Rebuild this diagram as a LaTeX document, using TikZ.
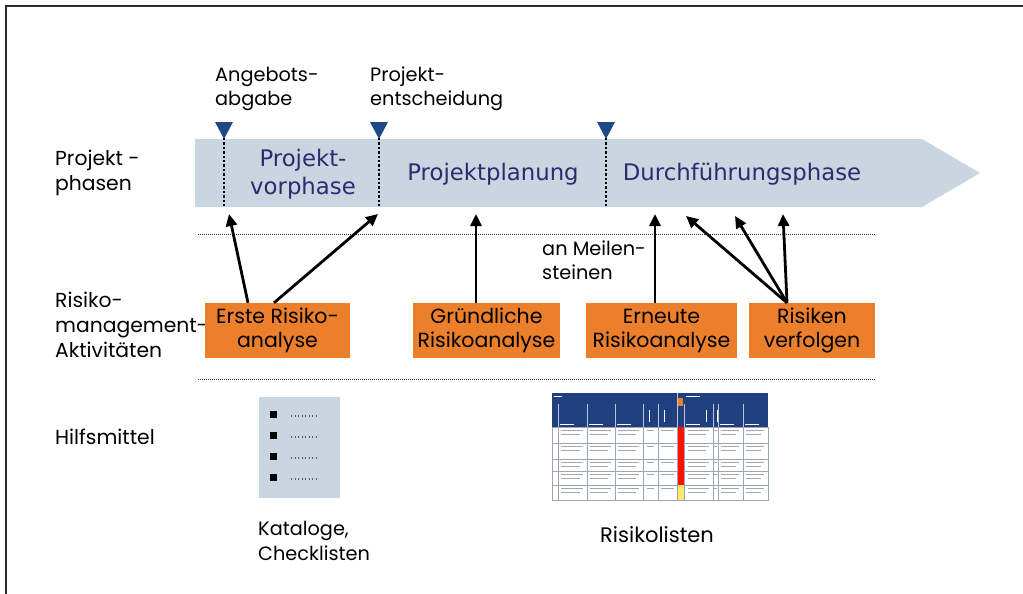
\documentclass[tikz,border=0pt]{standalone}
\usepackage{fontspec}
\setmainfont{Poppins}
\newfontfamily\phasefont{DejaVu Sans}
\usetikzlibrary{arrows.meta,calc}
\definecolor{band}{HTML}{C9D6E1}
\definecolor{orng}{HTML}{EB7F2B}
\definecolor{navy}{HTML}{2D2A6E}
\definecolor{tri}{HTML}{1F4A8A}
\definecolor{hdr}{HTML}{1F3F7E}
\definecolor{frame}{HTML}{2B2B2B}
\definecolor{grid}{HTML}{9AA6B8}
\begin{document}
\begin{tikzpicture}[x=1pt,y=-1pt,
  lbl/.style={anchor=west,align=left,font=\fontsize{19.3}{24.5}\selectfont,inner sep=0},
  side/.style={lbl,font=\fontsize{20.3}{25}\selectfont},
  phase/.style={align=center,text=navy,font=\phasefont\fontsize{22.8}{28}\selectfont,inner sep=0},
  actbox/.style={fill=orng,minimum height=55pt,align=center,font=\fontsize{20.5}{24}\selectfont,inner sep=0},
  arr/.style={-{Triangle[length=12pt,width=11pt]},line width=2.8pt},
  msline/.style={line width=2.6pt,dash pattern=on 2.4pt off 2pt},
  sep/.style={line width=1pt,dash pattern=on 1pt off 1pt,black!80},
  txtline/.style={line width=0.7pt,black!35}]
\useasboundingbox (0,0) rectangle (1023,594);
% frame
\draw[frame,line width=2.5pt] (6,594) -- (6,6) -- (1023,6);
% phase band
\fill[band] (195,139) -- (922,139) -- (980,173) -- (922,207) -- (195,207) -- cycle;
% milestones
\foreach \n/\x in {m1/224,m2/379,m3/606}{
  \coordinate (\n) at (\x,138);
  \fill[tri] (\x-9,122) -- (\x+9,122) -- (\x,139) -- cycle;
  \draw[msline] (\n) -- (\x,208);
}
% left labels
\node[side] (lp) at (55,173) {Projekt -\\phasen};
\node[side] (lr) at (55,325) {Risiko-\\management-\\Aktivitäten};
\node[side] (lh) at (55,437) {Hilfsmittel};
% milestone labels
\node[lbl] (la) at (215,89) {Angebots-\\abgabe};
\node[lbl] (le) at (370,89) {Projekt-\\entscheidung};
% phase labels
\node[phase] (pv) at (303,174) {Projekt-\\vorphase};
\node[phase] (pp) at (493,174) {Projektplanung};
\node[phase] (pd) at (742,174) {Durchführungsphase};
% separators
\draw[sep] (198,234) -- (875,234);
\draw[sep] (198,379) -- (875,379);
% activity boxes
\node[actbox,minimum width=145pt] (b1) at (277.5,330.5) {Erste Risiko-\\analyse};
\node[actbox,minimum width=147pt] (b2) at (486.5,330.5) {Gründliche\\Risikoanalyse};
\node[actbox,minimum width=151pt] (b3) at (661.5,330.5) {Erneute\\Risikoanalyse};
\node[actbox,minimum width=126pt] (b4) at (812,330.5) {Risiken\\verfolgen};
\node[lbl] (lm) at (542,260) {an Meilen-\\steinen};
% arrow targets
\coordinate (t1) at (229,214);
\coordinate (t2) at (378,214);
\coordinate (t3) at (476,214);
\coordinate (t4) at (655,214);
\coordinate (t5) at (686,216);
\coordinate (t6) at (735,216);
\coordinate (t7) at (783,214);
\draw[arr] ([xshift=-29.5pt]b1.north) -- (t1);
\draw[arr] ([xshift=-3.5pt]b1.north) -- (t2);
\draw[arr] ([xshift=-10.5pt]b2.north) -- (t3);
\draw[arr] ([xshift=-6.5pt]b3.north) -- (t4);
\draw[arr] ([xshift=-25pt]b4.north) -- (t5);
\draw[arr] ([xshift=-25pt]b4.north) -- (t6);
\draw[arr] ([xshift=-25pt]b4.north) -- (t7);
% checklist
\fill[band] (259,397) rectangle (340,498);
\foreach \y in {414,435,456,477}{
  \fill[black] (269.5,\y-3.5) rectangle (276.5,\y+3.5);
  \draw[line width=1.2pt,black!65,dash pattern=on 1.2pt off 2.3pt] (291,\y+2) -- (318,\y+2);
}
\node[lbl] (lk) at (258,541) {Kataloge,\\Checklisten};
% risk list table
\fill[white] (552,393) rectangle (768,500);
\fill[hdr] (552,393) rectangle (768,427);
\foreach \x in {558,587,615,643,658,677,684,713,718,743}{
  \draw[white!70!hdr,line width=0.5pt] (\x,404) -- (\x,427);
  \draw[grid,line width=0.5pt] (\x,427) -- (\x,500);
}
\draw[white!70!hdr,line width=0.5pt] (677,393) -- (677,404);
\foreach \y in {443,459,471,485}{
  \draw[grid,line width=0.5pt] (552,\y) -- (768,\y);
}
\draw[grid,line width=0.5pt] (552,427) rectangle (768,500);
\fill[red!85!orange] (677.5,427) rectangle (683.5,485);
\fill[yellow!80!orange!60] (677.5,485) rectangle (683.5,500);
\fill[orng] (678,398) rectangle (683,406);
% header tiny marks
\draw[white,line width=0.8pt] (554,396) -- (562,396);
\draw[white,line width=0.8pt] (686,396) -- (700,396);
\foreach \x in {559,588,616,685,719,744}{\draw[white,line width=0.6pt] (\x+1,424) -- (\x+15,424);}
\foreach \x in {646,661,703,714}{\draw[white,line width=0.6pt] (\x+3,410) -- (\x+3,422);}
% body tiny text marks
\foreach \ya/\yb in {427/443,443/459,459/471,471/485,485/500}{
  \foreach \xa/\xb in {559/586,588/614,616/642,686/712,719/742,744/767}{
    \draw[txtline] (\xa+1.5,\ya+3.5) -- (\xb-3,\ya+3.5);
    \draw[txtline] (\xa+1.5,\ya+7) -- (\xb-6,\ya+7);
  }
  \draw[txtline] (647,\ya+3.5) -- (654,\ya+3.5);
  \draw[txtline] (661,\ya+3.5) -- (674,\ya+3.5);
  \draw[txtline] (714,\ya+3.5) -- (717,\ya+3.5);
}
\node[lbl,font=\fontsize{21}{25}\selectfont] (lrl) at (600,535) {Risikolisten};
\end{tikzpicture}
\end{document}
